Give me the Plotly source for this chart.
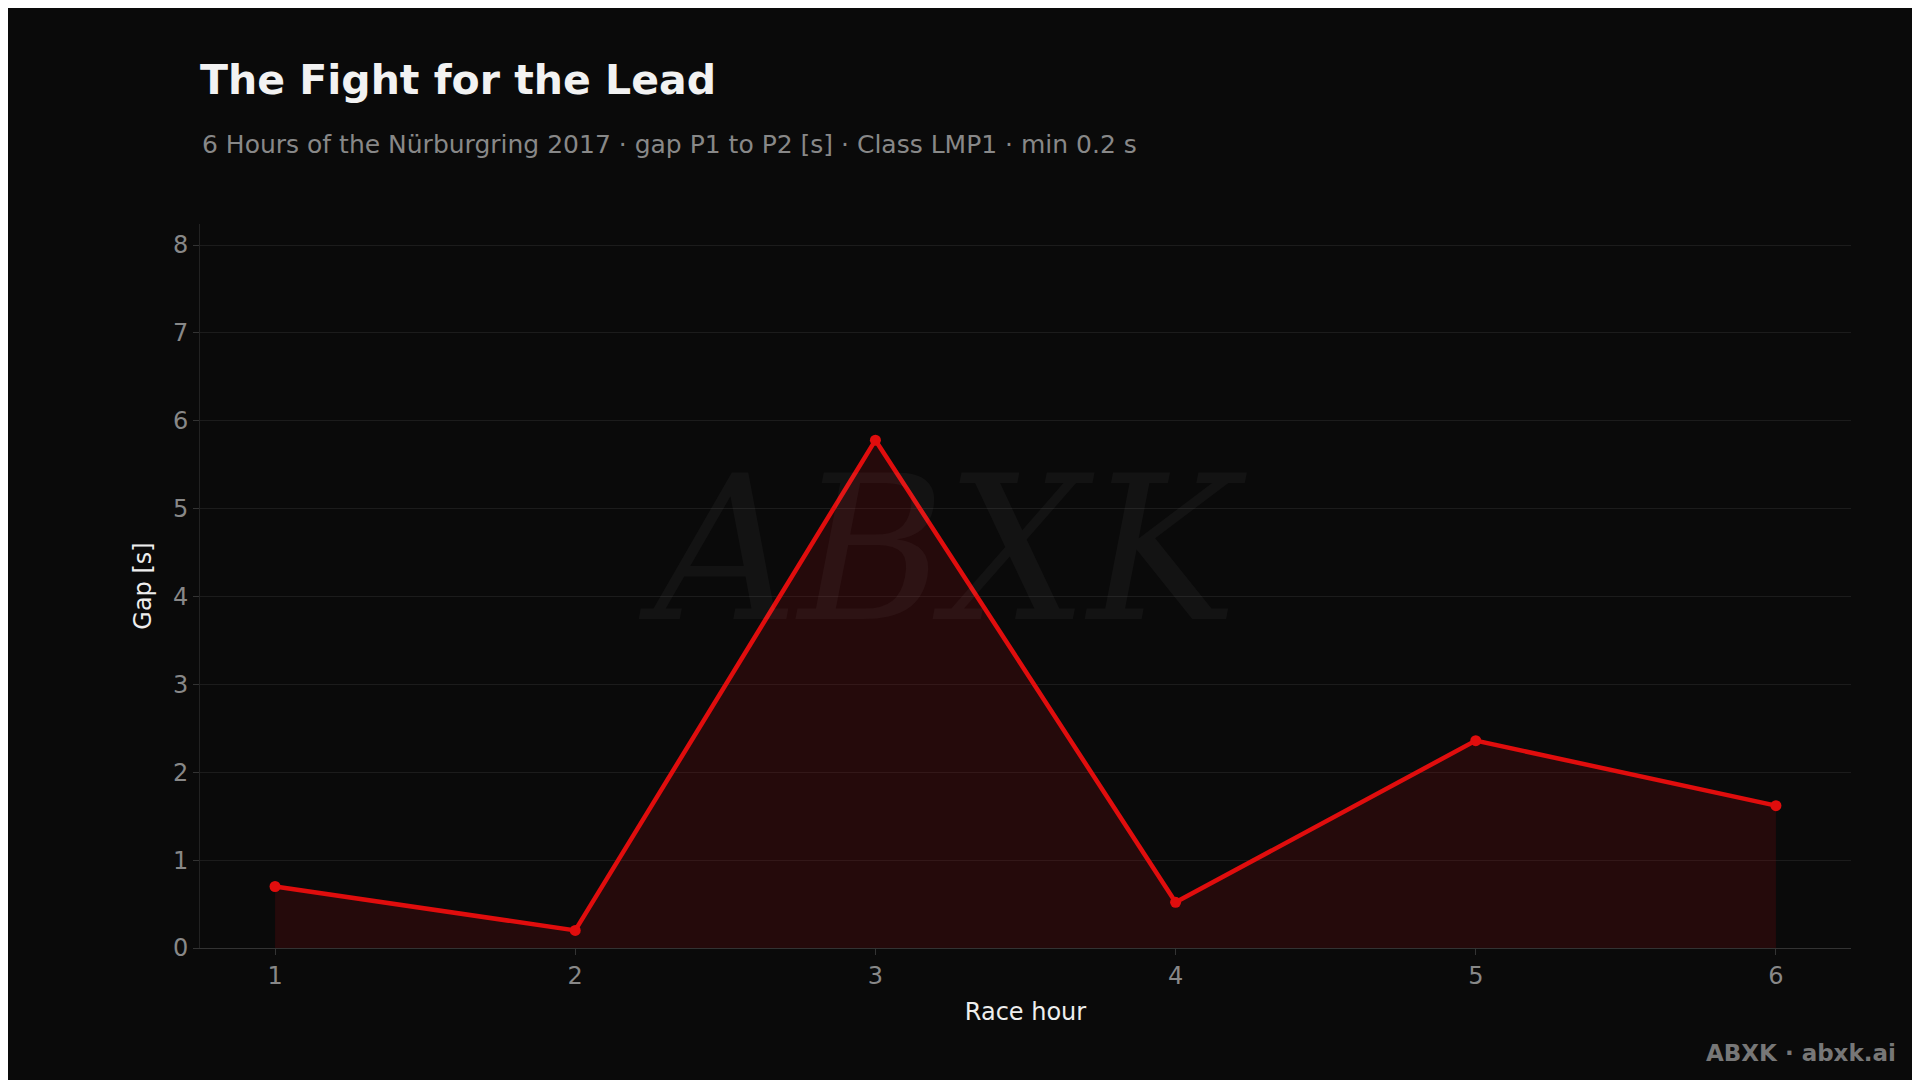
import plotly.graph_objects as go

hours = [1, 2, 3, 4, 5, 6]
gap = [0.70, 0.20, 5.78, 0.52, 2.36, 1.62]
y_ticks = [0, 1, 2, 3, 4, 5, 6, 7, 8]

fig = go.Figure(go.Scatter(
    x=hours, y=gap, mode="lines+markers", fill="tozeroy",
    fillcolor="rgba(120,10,15,0.25)",
    line=dict(color="#e00d0d", width=4.5), marker=dict(color="#e00d0d", size=11),
    hoverinfo="x+y"))

fig.update_layout(
    width=1920, height=1080, paper_bgcolor="#0a0a0a", plot_bgcolor="#0a0a0a",
    font=dict(family="DejaVu Sans", color="#888888"),
    margin=dict(l=192, r=77, t=216, b=140), showlegend=False,
    title=dict(text="<b>The Fight for the Lead</b>", x=192/1920, xanchor="left",
               y=1-72/1080, yanchor="middle", font=dict(size=41, color="#f2f2f2")),
    xaxis=dict(range=[0.75, 6.25], tickvals=hours, showgrid=False,
               showline=True, linecolor="#333333", ticks="outside", ticklen=6, tickcolor="#333333",
               tickfont=dict(size=24, color="#888888"),
               title=dict(text="Race hour", font=dict(size=24, color="#eeeeee"), standoff=14), zeroline=False),
    yaxis=dict(range=[0, 8.24], tickvals=y_ticks, gridcolor="#1c1c1c",
               showline=True, linecolor="#222222", ticks="outside", ticklen=6, tickcolor="#333333",
               tickfont=dict(size=24, color="#888888"),
               title=dict(text="Gap [s]", font=dict(size=24, color="#eeeeee"), standoff=14), zeroline=False),
    annotations=[
        dict(text="6 Hours of the Nürburgring 2017 · gap P1 to P2 [s] · Class LMP1 · min 0.2 s",
             xref="paper", yref="paper", x=0, y=1+(216-137)/724, xanchor="left", yanchor="middle",
             showarrow=False, font=dict(size=25, color="#888888")),
        dict(text="<b>ABXK · abxk.ai</b>", xref="paper", yref="paper",
             x=1+ (77-30)/1651, y=-(1045-940)/724, xanchor="right", yanchor="middle",
             showarrow=False, font=dict(size=23, color="#777777")),
        dict(text="<i>ABXK</i>", xref="paper", yref="paper", x=0.45, y=0.55,
             showarrow=False, font=dict(size=200, color="rgba(255,255,255,0.04)", family="DejaVu Serif")),
    ])
fig.write_html("out.html")
